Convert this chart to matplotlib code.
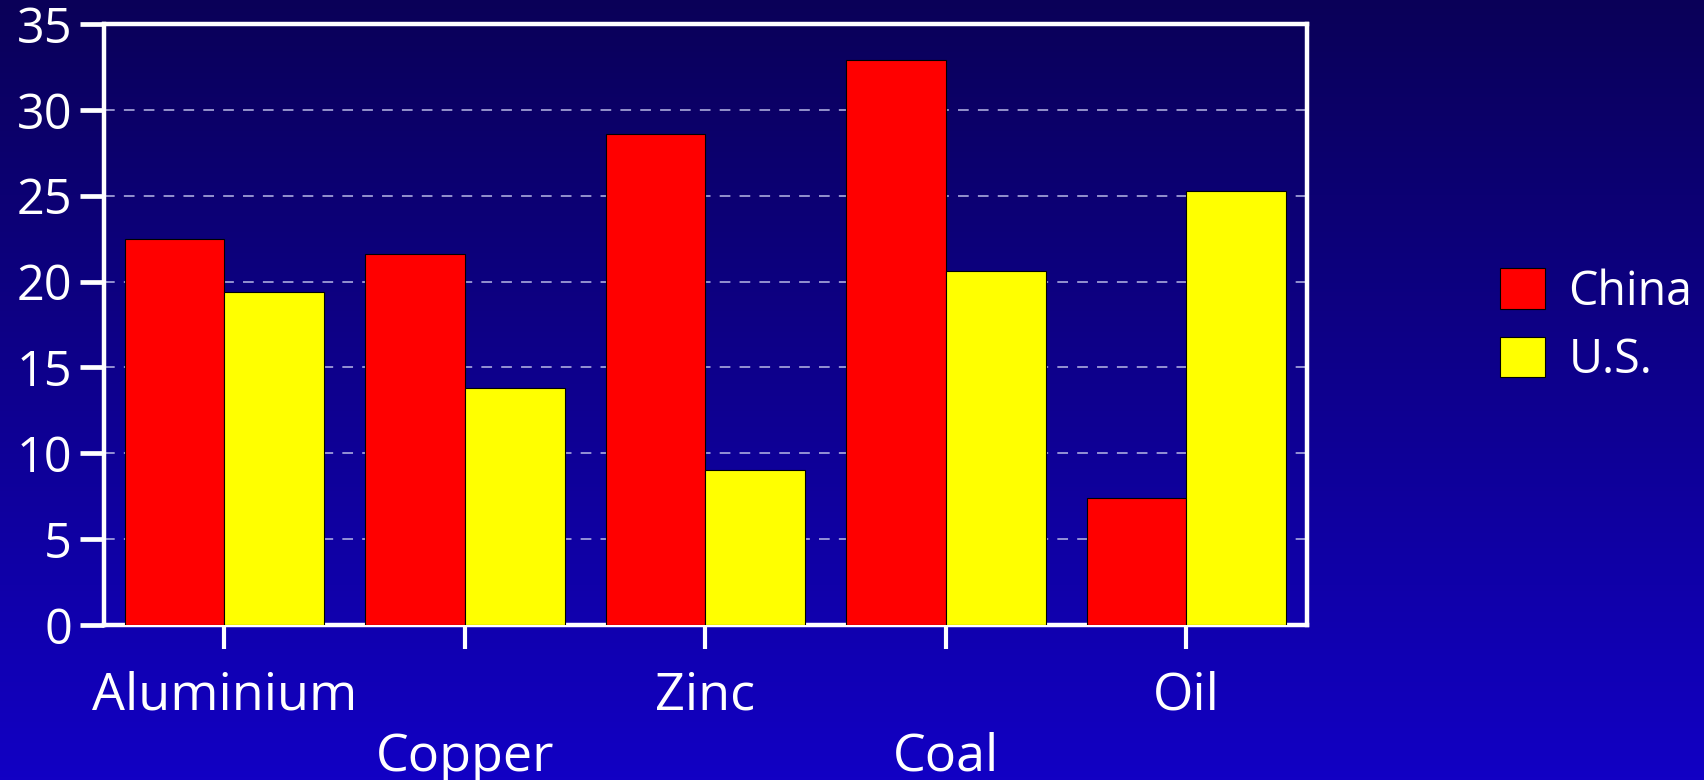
import numpy as np
import matplotlib
matplotlib.use("Agg")
import matplotlib.pyplot as plt
from matplotlib.colors import LinearSegmentedColormap

# Data
categories = ["Aluminium", "Copper", "Zinc", "Coal", "Oil"]
china = [22.5, 21.6, 28.6, 32.9, 7.4]
us = [19.4, 13.8, 9.0, 20.6, 25.3]
series_names = ["China", "U.S."]
yticks = [0, 5, 10, 15, 20, 25, 30, 35]

plt.rcParams["font.family"] = ["Open Sans", "DejaVu Sans"]

W, H, DPI = 1704, 780, 100
fig = plt.figure(figsize=(W / DPI, H / DPI), dpi=DPI)

# Vertical gradient background
bg = fig.add_axes([0, 0, 1, 1], zorder=-10)
grad = np.linspace(0, 1, 256).reshape(-1, 1)
cmap = LinearSegmentedColormap.from_list("bg", ["#0a0058", "#1200c4"])
bg.imshow(grad, aspect="auto", cmap=cmap, extent=[0, 1, 0, 1], origin="upper")
bg.set_axis_off()

ax = fig.add_axes([104 / W, 1 - 625 / H, 1202.7 / W, 601 / H])
ax.set_facecolor("none")

x = np.arange(len(categories))
bw = 0.4145
ax.bar(x - bw / 2, china, bw, color="#ff0000", edgecolor="black",
       linewidth=0.8, zorder=3, label=series_names[0])
ax.bar(x + bw / 2, us, bw, color="#ffff00", edgecolor="black",
       linewidth=0.8, zorder=3, label=series_names[1])

ax.set_xlim(-0.5, len(categories) - 0.5)
ax.set_ylim(0, 35)
ax.set_yticks(yticks)
ax.set_yticklabels([str(v) for v in yticks])
ax.set_xticks(x)
ax.set_xticklabels(categories)

for s in ax.spines.values():
    s.set_color("white")
    s.set_linewidth(3.2)

ax.set_axisbelow(True)
ax.yaxis.grid(True, color="#b8b8e6", linewidth=1.1, linestyle=(0, (7, 6)))

ax.tick_params(axis="y", colors="white", length=17, width=3.4,
               pad=6, labelsize=35, direction="out")
ax.tick_params(axis="x", colors="white", length=17, width=3.0,
               pad=16, labelsize=37.5, direction="out")
for t in ax.yaxis.get_major_ticks():
    t.tick1line.set_solid_capstyle("round")
for i, t in enumerate(ax.xaxis.get_major_ticks()):
    t.tick1line.set_solid_capstyle("round")
    if i % 2 == 1:
        t.set_pad(16 + 44)

leg = fig.legend(loc="center left", bbox_to_anchor=(1500 / W, 1 - 326 / H),
                 frameon=False, fontsize=33.5, handlelength=0.97,
                 handleheight=0.97, handletextpad=0.5, labelspacing=0.45,
                 borderpad=0, borderaxespad=0)
for txt in leg.get_texts():
    txt.set_color("white")

fig.savefig("out.png", dpi=DPI)
